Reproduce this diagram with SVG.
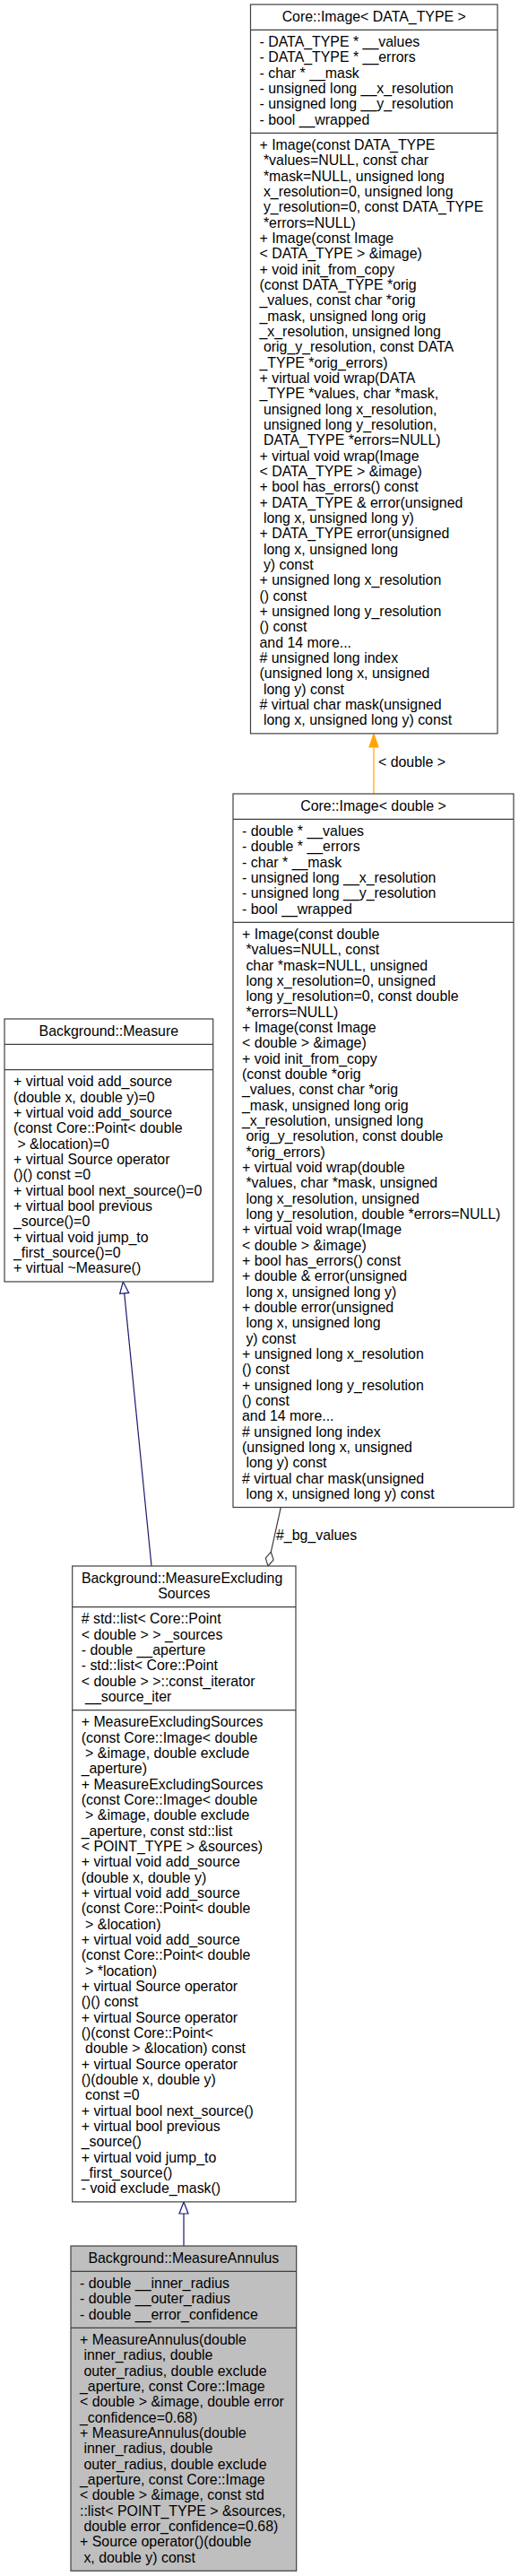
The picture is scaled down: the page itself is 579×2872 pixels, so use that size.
<svg xmlns="http://www.w3.org/2000/svg" width="579" height="2872" viewBox="0 0 579 2872">
<style>
.box{fill:#ffffff;stroke:#404040;stroke-width:1.2}
.grey{fill:#bfbfbf}
.sep{stroke:#404040;stroke-width:1.2}
text{font-family:"Liberation Sans",Arial,Helvetica,sans-serif;font-size:15.9px;fill:#000}
.c{text-anchor:middle}
.inh{stroke:#191970;stroke-width:1.2;fill:none}
.inhh{stroke:#191970;stroke-width:1.2;fill:#ffffff}
.tpl{stroke:#ffa500;stroke-width:1.2;fill:none}
.tplh{stroke:#ffa500;stroke-width:1.2;fill:#ffa500}
.agg{stroke:#404040;stroke-width:1.2;fill:none}
.aggh{stroke:#404040;stroke-width:1.2;fill:#ffffff}
</style>
<rect width="579" height="2872" fill="#ffffff"/>

<g id="connectors">
  <line class="tpl" x1="417" y1="885" x2="417" y2="833"/>
  <polygon class="tplh" points="417,818.5 422,833 412,833"/>
  <text x="422" y="855">&lt; double &gt;</text>

  <line class="inh" x1="169" y1="1746" x2="138.7" y2="1442"/>
  <polygon class="inhh" points="137.3,1429 143.7,1441.4 133.7,1442.4"/>

  <line class="agg" x1="313.3" y1="1680.5" x2="302.3" y2="1730.3"/>
  <polygon class="aggh" points="299,1746 305.1,1739.1 302.3,1730.3 296.3,1737.2"/>
  <text x="308" y="1717">#_bg_values</text>

  <line class="inh" x1="205" y1="2504" x2="205" y2="2468"/>
  <polygon class="inhh" points="205,2455 210,2468 200,2468"/>
</g>

<g id="node-core-image-template">
  <rect class="box" x="279.5" y="5" width="275.5" height="812.85"/>
  <line class="sep" x1="279.5" y1="33.33" x2="555" y2="33.33"/>
  <line class="sep" x1="279.5" y1="148.31" x2="555" y2="148.31"/>
  <text class="c" x="417.25" y="23.7">Core::Image&lt; DATA_TYPE &gt;</text>
  <text>
    <tspan x="289.5" y="52.03">- DATA_TYPE * __values</tspan>
    <tspan x="289.5" dy="17.33">- DATA_TYPE * __errors</tspan>
    <tspan x="289.5" dy="17.33">- char * __mask</tspan>
    <tspan x="289.5" dy="17.33">- unsigned long __x_resolution</tspan>
    <tspan x="289.5" dy="17.33">- unsigned long __y_resolution</tspan>
    <tspan x="289.5" dy="17.33">- bool __wrapped</tspan>
  </text>
  <text>
    <tspan x="289.5" y="167.01">+ Image(const DATA_TYPE</tspan>
    <tspan x="289.5" dy="17.33">&#160;*values=NULL, const char</tspan>
    <tspan x="289.5" dy="17.33">&#160;*mask=NULL, unsigned long</tspan>
    <tspan x="289.5" dy="17.33">&#160;x_resolution=0, unsigned long</tspan>
    <tspan x="289.5" dy="17.33">&#160;y_resolution=0, const DATA_TYPE</tspan>
    <tspan x="289.5" dy="17.33">&#160;*errors=NULL)</tspan>
    <tspan x="289.5" dy="17.33">+ Image(const Image</tspan>
    <tspan x="289.5" dy="17.33">&lt; DATA_TYPE &gt; &amp;image)</tspan>
    <tspan x="289.5" dy="17.33">+ void init_from_copy</tspan>
    <tspan x="289.5" dy="17.33">(const DATA_TYPE *orig</tspan>
    <tspan x="289.5" dy="17.33">_values, const char *orig</tspan>
    <tspan x="289.5" dy="17.33">_mask, unsigned long orig</tspan>
    <tspan x="289.5" dy="17.33">_x_resolution, unsigned long</tspan>
    <tspan x="289.5" dy="17.33">&#160;orig_y_resolution, const DATA</tspan>
    <tspan x="289.5" dy="17.33">_TYPE *orig_errors)</tspan>
    <tspan x="289.5" dy="17.33">+ virtual void wrap(DATA</tspan>
    <tspan x="289.5" dy="17.33">_TYPE *values, char *mask,</tspan>
    <tspan x="289.5" dy="17.33">&#160;unsigned long x_resolution,</tspan>
    <tspan x="289.5" dy="17.33">&#160;unsigned long y_resolution,</tspan>
    <tspan x="289.5" dy="17.33">&#160;DATA_TYPE *errors=NULL)</tspan>
    <tspan x="289.5" dy="17.33">+ virtual void wrap(Image</tspan>
    <tspan x="289.5" dy="17.33">&lt; DATA_TYPE &gt; &amp;image)</tspan>
    <tspan x="289.5" dy="17.33">+ bool has_errors() const</tspan>
    <tspan x="289.5" dy="17.33">+ DATA_TYPE &amp; error(unsigned</tspan>
    <tspan x="289.5" dy="17.33">&#160;long x, unsigned long y)</tspan>
    <tspan x="289.5" dy="17.33">+ DATA_TYPE error(unsigned</tspan>
    <tspan x="289.5" dy="17.33">&#160;long x, unsigned long</tspan>
    <tspan x="289.5" dy="17.33">&#160;y) const</tspan>
    <tspan x="289.5" dy="17.33">+ unsigned long x_resolution</tspan>
    <tspan x="289.5" dy="17.33">() const</tspan>
    <tspan x="289.5" dy="17.33">+ unsigned long y_resolution</tspan>
    <tspan x="289.5" dy="17.33">() const</tspan>
    <tspan x="289.5" dy="17.33">and 14 more...</tspan>
    <tspan x="289.5" dy="17.33"># unsigned long index</tspan>
    <tspan x="289.5" dy="17.33">(unsigned long x, unsigned</tspan>
    <tspan x="289.5" dy="17.33">&#160;long y) const</tspan>
    <tspan x="289.5" dy="17.33"># virtual char mask(unsigned</tspan>
    <tspan x="289.5" dy="17.33">&#160;long x, unsigned long y) const</tspan>
  </text>
</g>

<g id="node-core-image-double">
  <rect class="box" x="260" y="885" width="313" height="795.52"/>
  <line class="sep" x1="260" y1="913.33" x2="573" y2="913.33"/>
  <line class="sep" x1="260" y1="1028.31" x2="573" y2="1028.31"/>
  <text class="c" x="416.5" y="903.7">Core::Image&lt; double &gt;</text>
  <text>
    <tspan x="270" y="932.03">- double * __values</tspan>
    <tspan x="270" dy="17.33">- double * __errors</tspan>
    <tspan x="270" dy="17.33">- char * __mask</tspan>
    <tspan x="270" dy="17.33">- unsigned long __x_resolution</tspan>
    <tspan x="270" dy="17.33">- unsigned long __y_resolution</tspan>
    <tspan x="270" dy="17.33">- bool __wrapped</tspan>
  </text>
  <text>
    <tspan x="270" y="1047.01">+ Image(const double</tspan>
    <tspan x="270" dy="17.33">&#160;*values=NULL, const</tspan>
    <tspan x="270" dy="17.33">&#160;char *mask=NULL, unsigned</tspan>
    <tspan x="270" dy="17.33">&#160;long x_resolution=0, unsigned</tspan>
    <tspan x="270" dy="17.33">&#160;long y_resolution=0, const double</tspan>
    <tspan x="270" dy="17.33">&#160;*errors=NULL)</tspan>
    <tspan x="270" dy="17.33">+ Image(const Image</tspan>
    <tspan x="270" dy="17.33">&lt; double &gt; &amp;image)</tspan>
    <tspan x="270" dy="17.33">+ void init_from_copy</tspan>
    <tspan x="270" dy="17.33">(const double *orig</tspan>
    <tspan x="270" dy="17.33">_values, const char *orig</tspan>
    <tspan x="270" dy="17.33">_mask, unsigned long orig</tspan>
    <tspan x="270" dy="17.33">_x_resolution, unsigned long</tspan>
    <tspan x="270" dy="17.33">&#160;orig_y_resolution, const double</tspan>
    <tspan x="270" dy="17.33">&#160;*orig_errors)</tspan>
    <tspan x="270" dy="17.33">+ virtual void wrap(double</tspan>
    <tspan x="270" dy="17.33">&#160;*values, char *mask, unsigned</tspan>
    <tspan x="270" dy="17.33">&#160;long x_resolution, unsigned</tspan>
    <tspan x="270" dy="17.33">&#160;long y_resolution, double *errors=NULL)</tspan>
    <tspan x="270" dy="17.33">+ virtual void wrap(Image</tspan>
    <tspan x="270" dy="17.33">&lt; double &gt; &amp;image)</tspan>
    <tspan x="270" dy="17.33">+ bool has_errors() const</tspan>
    <tspan x="270" dy="17.33">+ double &amp; error(unsigned</tspan>
    <tspan x="270" dy="17.33">&#160;long x, unsigned long y)</tspan>
    <tspan x="270" dy="17.33">+ double error(unsigned</tspan>
    <tspan x="270" dy="17.33">&#160;long x, unsigned long</tspan>
    <tspan x="270" dy="17.33">&#160;y) const</tspan>
    <tspan x="270" dy="17.33">+ unsigned long x_resolution</tspan>
    <tspan x="270" dy="17.33">() const</tspan>
    <tspan x="270" dy="17.33">+ unsigned long y_resolution</tspan>
    <tspan x="270" dy="17.33">() const</tspan>
    <tspan x="270" dy="17.33">and 14 more...</tspan>
    <tspan x="270" dy="17.33"># unsigned long index</tspan>
    <tspan x="270" dy="17.33">(unsigned long x, unsigned</tspan>
    <tspan x="270" dy="17.33">&#160;long y) const</tspan>
    <tspan x="270" dy="17.33"># virtual char mask(unsigned</tspan>
    <tspan x="270" dy="17.33">&#160;long x, unsigned long y) const</tspan>
  </text>
</g>

<g id="node-measure">
  <rect class="box" x="5" y="1136" width="232.7" height="292.95"/>
  <line class="sep" x1="5" y1="1164.33" x2="237.7" y2="1164.33"/>
  <line class="sep" x1="5" y1="1192.66" x2="237.7" y2="1192.66"/>
  <text class="c" x="121.35" y="1154.7">Background::Measure</text>
  <text>
    <tspan x="15" y="1211.36">+ virtual void add_source</tspan>
    <tspan x="15" dy="17.33">(double x, double y)=0</tspan>
    <tspan x="15" dy="17.33">+ virtual void add_source</tspan>
    <tspan x="15" dy="17.33">(const Core::Point&lt; double</tspan>
    <tspan x="15" dy="17.33">&#160;&gt; &amp;location)=0</tspan>
    <tspan x="15" dy="17.33">+ virtual Source operator</tspan>
    <tspan x="15" dy="17.33">()() const =0</tspan>
    <tspan x="15" dy="17.33">+ virtual bool next_source()=0</tspan>
    <tspan x="15" dy="17.33">+ virtual bool previous</tspan>
    <tspan x="15" dy="17.33">_source()=0</tspan>
    <tspan x="15" dy="17.33">+ virtual void jump_to</tspan>
    <tspan x="15" dy="17.33">_first_source()=0</tspan>
    <tspan x="15" dy="17.33">+ virtual ~Measure()</tspan>
  </text>
</g>

<g id="node-measure-excluding-sources">
  <rect class="box" x="80.7" y="1746" width="249.3" height="708.87"/>
  <line class="sep" x1="80.7" y1="1791.66" x2="330" y2="1791.66"/>
  <line class="sep" x1="80.7" y1="1906.64" x2="330" y2="1906.64"/>
  <text class="c">
    <tspan x="205.35" y="1764.7">Background::MeasureExcluding</tspan>
    <tspan x="205.35" dy="17.33">Sources</tspan>
  </text>
  <text>
    <tspan x="90.7" y="1810.36"># std::list&lt; Core::Point</tspan>
    <tspan x="90.7" dy="17.33">&lt; double &gt; &gt; _sources</tspan>
    <tspan x="90.7" dy="17.33">- double __aperture</tspan>
    <tspan x="90.7" dy="17.33">- std::list&lt; Core::Point</tspan>
    <tspan x="90.7" dy="17.33">&lt; double &gt; &gt;::const_iterator</tspan>
    <tspan x="90.7" dy="17.33">&#160;__source_iter</tspan>
  </text>
  <text>
    <tspan x="90.7" y="1925.34">+ MeasureExcludingSources</tspan>
    <tspan x="90.7" dy="17.33">(const Core::Image&lt; double</tspan>
    <tspan x="90.7" dy="17.33">&#160;&gt; &amp;image, double exclude</tspan>
    <tspan x="90.7" dy="17.33">_aperture)</tspan>
    <tspan x="90.7" dy="17.33">+ MeasureExcludingSources</tspan>
    <tspan x="90.7" dy="17.33">(const Core::Image&lt; double</tspan>
    <tspan x="90.7" dy="17.33">&#160;&gt; &amp;image, double exclude</tspan>
    <tspan x="90.7" dy="17.33">_aperture, const std::list</tspan>
    <tspan x="90.7" dy="17.33">&lt; POINT_TYPE &gt; &amp;sources)</tspan>
    <tspan x="90.7" dy="17.33">+ virtual void add_source</tspan>
    <tspan x="90.7" dy="17.33">(double x, double y)</tspan>
    <tspan x="90.7" dy="17.33">+ virtual void add_source</tspan>
    <tspan x="90.7" dy="17.33">(const Core::Point&lt; double</tspan>
    <tspan x="90.7" dy="17.33">&#160;&gt; &amp;location)</tspan>
    <tspan x="90.7" dy="17.33">+ virtual void add_source</tspan>
    <tspan x="90.7" dy="17.33">(const Core::Point&lt; double</tspan>
    <tspan x="90.7" dy="17.33">&#160;&gt; *location)</tspan>
    <tspan x="90.7" dy="17.33">+ virtual Source operator</tspan>
    <tspan x="90.7" dy="17.33">()() const</tspan>
    <tspan x="90.7" dy="17.33">+ virtual Source operator</tspan>
    <tspan x="90.7" dy="17.33">()(const Core::Point&lt;</tspan>
    <tspan x="90.7" dy="17.33">&#160;double &gt; &amp;location) const</tspan>
    <tspan x="90.7" dy="17.33">+ virtual Source operator</tspan>
    <tspan x="90.7" dy="17.33">()(double x, double y)</tspan>
    <tspan x="90.7" dy="17.33">&#160;const =0</tspan>
    <tspan x="90.7" dy="17.33">+ virtual bool next_source()</tspan>
    <tspan x="90.7" dy="17.33">+ virtual bool previous</tspan>
    <tspan x="90.7" dy="17.33">_source()</tspan>
    <tspan x="90.7" dy="17.33">+ virtual void jump_to</tspan>
    <tspan x="90.7" dy="17.33">_first_source()</tspan>
    <tspan x="90.7" dy="17.33">- void exclude_mask()</tspan>
  </text>
</g>

<g id="node-measure-annulus">
  <rect class="box grey" x="79" y="2504" width="251.7" height="362.27"/>
  <line class="sep" x1="79" y1="2532.33" x2="330.7" y2="2532.33"/>
  <line class="sep" x1="79" y1="2595.32" x2="330.7" y2="2595.32"/>
  <text class="c" x="204.85" y="2522.7">Background::MeasureAnnulus</text>
  <text>
    <tspan x="89" y="2551.03">- double __inner_radius</tspan>
    <tspan x="89" dy="17.33">- double __outer_radius</tspan>
    <tspan x="89" dy="17.33">- double __error_confidence</tspan>
  </text>
  <text>
    <tspan x="89" y="2614.02">+ MeasureAnnulus(double</tspan>
    <tspan x="89" dy="17.33">&#160;inner_radius, double</tspan>
    <tspan x="89" dy="17.33">&#160;outer_radius, double exclude</tspan>
    <tspan x="89" dy="17.33">_aperture, const Core::Image</tspan>
    <tspan x="89" dy="17.33">&lt; double &gt; &amp;image, double error</tspan>
    <tspan x="89" dy="17.33">_confidence=0.68)</tspan>
    <tspan x="89" dy="17.33">+ MeasureAnnulus(double</tspan>
    <tspan x="89" dy="17.33">&#160;inner_radius, double</tspan>
    <tspan x="89" dy="17.33">&#160;outer_radius, double exclude</tspan>
    <tspan x="89" dy="17.33">_aperture, const Core::Image</tspan>
    <tspan x="89" dy="17.33">&lt; double &gt; &amp;image, const std</tspan>
    <tspan x="89" dy="17.33">::list&lt; POINT_TYPE &gt; &amp;sources,</tspan>
    <tspan x="89" dy="17.33">&#160;double error_confidence=0.68)</tspan>
    <tspan x="89" dy="17.33">+ Source operator()(double</tspan>
    <tspan x="89" dy="17.33">&#160;x, double y) const</tspan>
  </text>
</g>
</svg>
